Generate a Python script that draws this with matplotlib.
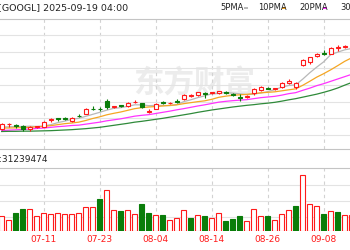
import numpy as np
import matplotlib.pyplot as plt
from matplotlib.transforms import blended_transform_factory
from matplotlib.patches import Rectangle

# GOOGL daily candles, 07-02 .. 09-12 (chart is cropped at both sides)
dates = ['07-02', '07-03', '07-07', '07-08', '07-09', '07-10', '07-11', '07-14', '07-15', '07-16',
         '07-17', '07-18', '07-21', '07-22', '07-23', '07-24', '07-25', '07-28', '07-29', '07-30',
         '07-31', '08-01', '08-04', '08-05', '08-06', '08-07', '08-08', '08-11', '08-12', '08-13',
         '08-14', '08-15', '08-18', '08-19', '08-20', '08-21', '08-22', '08-25', '08-26', '08-27',
         '08-28', '08-29', '09-02', '09-03', '09-04', '09-05', '09-08', '09-09', '09-10', '09-11',
         '09-12']

opens = [183.6, 186.3, 186.0, 185.6, 183.6, 184.8, 185.0, 189.0, 189.9, 190.2,
         188.6, 191.6, 192.6, 195.8, 195.8, 200.4, 196.8, 197.7, 197.4, 199.6,
         199.2, 194.1, 195.6, 199.5, 199.0, 200.1, 201.4, 203.4, 204.0, 205.4,
         205.2, 205.0, 205.8, 204.3, 203.0, 202.6, 205.0, 207.0, 208.2, 207.4,
         208.6, 211.0, 208.6, 222.0, 224.0, 227.4, 228.9, 228.6, 232.0, 232.8,
         232.5]
closes = [186.3, 186.6, 185.4, 183.6, 184.8, 185.1, 188.0, 189.4, 189.5, 189.8,
          190.0, 191.2, 195.6, 195.4, 195.4, 196.6, 197.1, 197.4, 199.4, 199.9,
          196.6, 194.7, 198.4, 198.9, 199.4, 199.6, 204.0, 203.7, 205.6, 204.6,
          205.5, 206.4, 205.4, 203.9, 202.0, 203.6, 207.4, 209.0, 207.8, 208.0,
          211.4, 212.4, 211.0, 225.0, 226.6, 228.6, 228.4, 232.4, 232.8, 233.1,
          232.8]
highs = [186.9, 186.9, 186.6, 186.0, 185.7, 185.7, 188.4, 190.4, 190.2, 190.6,
         190.5, 192.3, 195.9, 197.4, 196.8, 201.4, 197.7, 198.0, 199.8, 201.0,
         199.5, 195.6, 198.9, 200.7, 200.1, 201.6, 204.3, 204.3, 206.1, 205.8,
         206.1, 206.7, 206.4, 204.9, 204.4, 204.0, 208.5, 209.4, 209.1, 208.5,
         211.8, 213.3, 211.8, 225.3, 227.1, 229.2, 231.0, 232.8, 234.0, 234.0,
         233.7]
lows = [183.0, 184.8, 184.2, 182.7, 182.4, 183.9, 184.5, 187.5, 188.7, 189.0,
        188.1, 190.5, 192.3, 195.0, 194.4, 195.6, 196.2, 196.8, 197.1, 199.2,
        196.2, 193.2, 195.3, 198.6, 198.3, 199.3, 201.0, 202.8, 203.7, 202.4,
        204.6, 204.6, 204.6, 203.4, 200.6, 202.2, 204.0, 206.7, 207.3, 207.0,
        208.2, 210.6, 207.6, 221.4, 222.6, 227.1, 228.1, 228.3, 230.4, 231.9,
        231.9]

ma5 = [184.8, 184.9, 185.1, 185.1, 185.3, 185.1, 185.4, 186.2, 187.4, 188.3,
       189.4, 190.0, 191.2, 192.4, 193.6, 194.9, 196.0, 196.4, 197.2, 198.1,
       198.1, 197.6, 197.8, 197.7, 197.6, 198.2, 200.0, 201.1, 202.4, 203.5,
       204.7, 205.1, 205.5, 205.1, 204.7, 204.2, 204.5, 205.2, 206.0, 207.2,
       208.7, 209.7, 210.1, 213.5, 217.3, 220.7, 223.9, 228.2, 229.7, 231.1,
       231.9]
ma10 = [184.2, 184.2, 184.3, 184.4, 184.6, 184.9, 185.2, 185.6, 186.2, 186.8,
        187.2, 187.7, 188.7, 189.9, 190.9, 192.1, 193.0, 193.8, 194.8, 195.8,
        196.4, 196.8, 197.1, 197.4, 197.8, 198.1, 198.8, 199.4, 200.0, 200.5,
        201.4, 202.6, 203.3, 203.8, 204.1, 204.4, 204.8, 205.3, 205.6, 205.9,
        206.5, 207.1, 207.7, 209.8, 212.2, 214.7, 216.8, 219.1, 221.6, 224.2,
        226.3]
ma20 = [182.7, 182.9, 183.1, 183.3, 183.6, 183.9, 184.2, 184.6, 185.0, 185.3,
        185.7, 185.9, 186.5, 187.1, 187.7, 188.5, 189.1, 189.7, 190.5, 191.3,
        191.8, 192.2, 192.9, 193.6, 194.3, 195.1, 195.8, 196.6, 197.4, 198.1,
        198.9, 199.7, 200.2, 200.6, 200.9, 201.2, 201.8, 202.4, 202.8, 203.2,
        203.9, 204.8, 205.4, 206.8, 208.1, 209.6, 210.8, 212.2, 213.6, 215.0,
        216.4]
ma30 = [182.1, 182.2, 182.2, 182.3, 182.3, 182.4, 182.5, 182.6, 182.8, 183.0,
        183.2, 183.5, 183.8, 184.2, 184.6, 185.2, 185.8, 186.4, 187.0, 187.7,
        188.2, 188.8, 189.4, 190.0, 190.7, 191.4, 192.1, 192.8, 193.6, 194.3,
        195.0, 195.6, 196.2, 196.8, 197.3, 197.8, 198.2, 198.7, 199.1, 199.6,
        200.3, 201.1, 201.8, 202.7, 203.6, 204.5, 205.6, 206.8, 208.2, 209.9,
        211.5]

# volume in millions, and whether the bar is drawn as "up" (red)
volumes = [29.4, 22.8, 36.0, 43.4, 44.8, 30.8, 36.0, 34.0, 35.4, 34.8,
           34.0, 36.0, 48.8, 47.4, 63.4, 81.4, 41.4, 39.4, 42.8, 34.8,
           54.8, 36.0, 32.8, 32.0, 21.4, 26.8, 41.4, 26.8, 32.8, 30.0,
           26.8, 36.0, 19.4, 24.8, 30.0, 19.4, 44.8, 30.0, 30.0, 22.8,
           34.4, 41.4, 50.0, 111.4, 54.8, 50.0, 34.4, 39.4, 38.0, 32.4,
           31.4]
vol_up = [1, 1, 0, 0, 1, 1, 1, 1, 1, 1,
          1, 1, 1, 1, 0, 1, 1, 0, 1, 1,
          0, 0, 1, 0, 1, 1, 1, 0, 1, 0,
          1, 1, 0, 0, 0, 1, 1, 1, 0, 1,
          1, 1, 0, 1, 1, 1, 0, 1, 0, 1,
          1]

label_dates = ['06-30', '07-11', '07-23', '08-04', '08-14', '08-26', '09-08']
ma_names = ['5PMA', '10PMA', '20PMA', '30PMA']
ma_colors = ['#b8b8b8', '#f5a623', '#ff33ff', '#2f8a3a']

RED = '#ff1a1a'
GREEN = '#0a7d0a'
GRID = '#e3e3e3'
BORDER = '#c4c4c4'

W, H = 350, 250
fig = plt.figure(figsize=(3.5, 2.5), dpi=100)
fig.patch.set_facecolor('white')

ax_p = fig.add_axes([0, 1 - 149 / H, 1, 130 / H])
ax_v = fig.add_axes([0, 1 - 231 / H, 1, 63 / H])

x = np.arange(len(dates))
xlim = (-0.24, 49.76)

# --- price panel ---
ax_p.text(27.5, 211.5, '东方财富', fontsize=22, fontweight='bold', color='#ececec',
          family=['Noto Sans CJK SC', 'DejaVu Sans'], ha='center', va='center', zorder=0)

for i in x:
    up = closes[i] >= opens[i]
    col = RED if up else GREEN
    ax_p.vlines(i, lows[i], highs[i], color=col, lw=0.8, zorder=3)
    bot = min(opens[i], closes[i])
    hgt = max(abs(closes[i] - opens[i]), 0.05)
    ax_p.bar(i, hgt, bottom=bot, width=0.62, facecolor='white' if up else GREEN,
             edgecolor=col, linewidth=0.8, zorder=4)

for vals, col in zip([ma5, ma10, ma20, ma30], ma_colors):
    ax_p.plot(x, vals, color=col, lw=0.9, zorder=2)

ax_p.set_xlim(*xlim)
ax_p.set_ylim(171.6, 249.6)
ax_p.set_yticks(np.arange(180, 241, 10))
ax_p.yaxis.grid(True, color=GRID, lw=0.8)
ax_p.set_xticks([])
ax_p.tick_params(left=False, labelleft=False)
for s in ['left', 'right']:
    ax_p.spines[s].set_visible(False)
for s in ['top', 'bottom']:
    ax_p.spines[s].set_color(BORDER)
    ax_p.spines[s].set_linewidth(0.8)

# --- volume panel ---
for i in x:
    col = RED if vol_up[i] else GREEN
    ax_v.bar(i, volumes[i], width=0.64, facecolor='white' if vol_up[i] else GREEN,
             edgecolor=col, linewidth=0.8, zorder=3)

ax_v.set_xlim(*xlim)
ax_v.set_ylim(0, 126)
ax_v.set_yticks([28, 60, 92])
ax_v.yaxis.grid(True, color=GRID, lw=0.8)
ax_v.set_xticks([])
ax_v.tick_params(left=False, labelleft=False)
for s in ['left', 'right', 'bottom']:
    ax_v.spines[s].set_visible(False)
ax_v.spines['top'].set_color(BORDER)
ax_v.spines['top'].set_linewidth(0.8)

# dashed date gridlines and red date labels
step = 8
tr = blended_transform_factory(ax_v.transData, ax_v.transAxes)
for d in label_dates:
    pos = dates.index(d) if d in dates else dates.index('07-11') - step
    for ax in (ax_p, ax_v):
        ax.axvline(pos, color='#d2d2d2', lw=0.8, ls=(0, (3, 3)), zorder=1)
    ax_v.text(pos, -0.14, d, transform=tr, ha='center', va='center',
              fontsize=6.5, color=RED, clip_on=False)

# --- header texts ---
fig.text(-2 / W, 1 - 8 / H, '[GOOGL] 2025-09-19 04:00', fontsize=6.8,
         color='#222222', ha='left', va='center')

lx = [220, 258, 299, 340]
for px, name, col in zip(lx, ma_names, ma_colors):
    t = fig.text(px / W, 1 - 8 / H, name, fontsize=6, color='#222222', ha='left', va='center')
    fig.patches.append(Rectangle(((px + 24) / W, 1 - 9 / H), 4 / W, 2 / H,
                                 transform=fig.transFigure, facecolor=col, edgecolor='none'))

fig.text(-18 / W, 1 - 159 / H, 'VOL:31239474', fontsize=6.5, color='#222222',
         ha='left', va='center')

fig.savefig('out.png', dpi=100)
